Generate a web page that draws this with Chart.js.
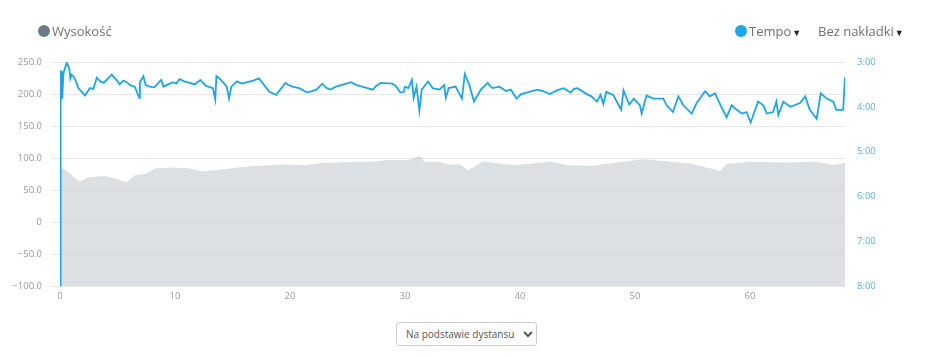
<!DOCTYPE html>
<html>
<head>
<meta charset="utf-8">
<script src="https://cdn.jsdelivr.net/npm/chart.js@4"></script>
<style>
  body { margin: 0; background: #fff; font-family: "Open Sans", sans-serif; }
  .wrap { position: relative; width: 929px; height: 357px; }
  .chart { position: absolute; left: 0; top: 0; width: 929px; height: 310px; }
  .leg { position: absolute; top: 22px; font-size: 13px; color: #707070; white-space: nowrap; }
  .dot { display: inline-block; width: 12px; height: 12px; border-radius: 50%; vertical-align: -1px; margin-right: 2px; }
  .caret { font-size: 9px; color: #222; margin-left: 1px; }
  select { position: absolute; left: 396px; top: 322px; width: 141px; height: 24px;
           font-family: "Open Sans", sans-serif; font-size: 10px; color: #555;
           border: 1px solid #ccc; border-radius: 3px; background: #fff; padding-left: 5px; }
</style>
</head>
<body>
<div class="wrap">
  <div class="chart"><canvas id="trackChart"></canvas></div>
  <div class="leg" style="left:38px"><span class="dot" style="background:#6b7a89"></span>Wysokość</div>
  <div class="leg" style="left:735px"><span class="dot" style="background:#1ea5e3"></span>Tempo<span class="caret">▼</span></div>
  <div class="leg" style="left:818px">Bez nakładki<span class="caret">▼</span></div>
  <select><option>Na podstawie dystansu</option></select>
</div>
<script>
// Elevation (m) by distance (km)
const elevKm = [0, 0.7, 1.2, 1.7, 2.5, 3.9, 4.8, 5.8, 6.5, 7.4, 8.3, 9.7, 11.2, 12.3, 14, 15.5, 17, 19.3,
  21.3, 22.8, 25.7, 27.1, 28.5, 30.3, 31.3, 31.7, 32.9, 33.9, 34.8, 35.5, 36.8, 38.3, 39.7, 42.6,
  44.1, 46.1, 48.4, 50.7, 52.8, 54.8, 56.5, 57.4, 58, 60, 62.9, 65.8, 67.2, 68.26];
const elevM = [86, 79, 70, 63, 70, 72, 68, 62, 73, 75, 84, 85, 84, 79, 82, 85, 87.5, 90,
  89, 92, 94, 94, 97, 97, 103, 94, 94, 90, 90, 81, 95, 91, 89, 94,
  89, 87.5, 93, 98, 95, 91, 84, 80, 91, 94, 93, 94, 89, 92];

// Pace (seconds per km) by distance (km)
const paceKm = [0, 0.05, 0.1, 0.15, 0.2, 0.3, 0.58, 0.8, 0.9, 1.0, 1.2, 1.4, 1.6, 2.17, 2.6, 2.9, 3.2, 3.5,
  3.8, 4.5, 4.9, 5.2, 5.5, 5.8, 6.1, 6.5, 6.9, 6.95, 7.25, 7.45, 7.8, 8.2, 8.8, 9.0, 9.8, 10.1, 10.4,
  10.8, 11.3, 11.7, 12.2, 12.7, 13.3, 13.5, 13.6, 14.0, 14.5, 14.7, 14.9, 15.4, 15.8, 16.3, 16.8, 17.3,
  17.7, 18.2, 18.8, 19.6, 19.9,
  20.2, 20.8, 21.5, 22.3, 22.8, 23.2, 23.5, 24.0, 24.9, 25.3, 25.8, 26.5, 27.2, 27.5, 27.9, 28.9, 29.2,
  29.6, 29.9, 30.0,
  30.3, 30.6, 30.75, 31.0, 31.25, 31.45, 32.0, 32.4, 33.0, 33.4, 33.55, 33.8, 34.4, 34.95, 35.2,
  35.6, 36.0, 36.6, 37.2, 37.4, 37.6, 38.2, 38.8, 39.2, 39.7, 40.1, 40.8, 41.5, 42.0, 42.6, 43.2, 43.8,
  44.4, 44.7, 45.0, 45.7, 46.2, 46.7, 47.0, 47.25, 47.5, 48.1, 48.8, 49.0, 49.5, 49.9, 50.43, 50.58,
  51.0, 51.6, 52.46, 52.75, 53.3, 53.77, 54.2, 54.93, 55.36, 56.1, 56.5, 56.96, 57.5, 57.97, 58.4,
  58.84, 59.3, 59.7, 60.06, 60.7, 61.16, 61.45, 62.0, 62.3, 62.46, 62.9, 63.5, 64.35, 64.8, 65.2,
  65.8, 66.15, 66.67, 67.24, 67.5, 68.1, 68.26];
const paceSec = [480, 191, 229, 192, 228, 195, 181, 188, 202, 197, 200, 206, 215, 225, 215, 216, 201, 206,
  208, 197, 204, 210, 205, 207, 211, 213, 228, 207, 199, 211, 213, 214, 204, 213, 207, 209, 203,
  206, 208, 210, 204, 212, 215, 230, 199, 204, 213, 229, 213, 206, 209, 207, 205, 202,
  210, 220, 224, 208, 211,
  213, 215, 221, 217, 209, 215, 217, 213, 209, 207, 211, 214, 217, 212, 208, 209, 212,
  221, 220, 213,
  215, 204, 228, 213, 245, 217, 206, 215, 217, 211, 228, 215, 213, 229, 196,
  211, 233, 217, 208, 212, 215, 213, 219, 217, 229, 223, 220, 217, 219, 223, 218, 215,
  221, 216, 215, 222, 226, 233, 224, 236, 220, 224, 244, 218, 237, 229, 238, 249,
  225, 229, 229, 238, 247, 226, 238, 249, 235, 219, 226, 222, 240, 254, 238,
  244, 249, 247, 261, 233, 238, 249, 247, 233, 251, 233, 240, 235, 226, 244,
  256, 222, 229, 233, 244, 244, 200];

const xTicks = [0, 10, 20, 30, 40, 50, 60];

const tickFont = { family: 'Open Sans', size: 9.5 };

new Chart(document.getElementById('trackChart'), {
    type: 'line',
    data: {
        datasets: [{
            label: 'Tempo',
            data: paceKm.map((k, i) => ({ x: k, y: paceSec[i] })),
            yAxisID: 'y1',
            borderColor: '#1ea5e3',
            borderWidth: 1.8,
            pointRadius: 0,
            tension: 0,
            fill: false,
            order: 0
        }, {
            label: 'Wysokość',
            data: elevKm.map((k, i) => ({ x: k, y: elevM[i] })),
            yAxisID: 'y',
            borderWidth: 0,
            backgroundColor: 'rgba(195,201,207,0.58)',
            pointRadius: 0,
            fill: 'start',
            order: 1
        }]
    },
    options: {
        responsive: true,
        maintainAspectRatio: false,
        animation: false,
        layout: { padding: { top: 62, left: 0, right: 0, bottom: 0 } },
        plugins: { legend: { display: false }, tooltip: { enabled: false } },
        scales: {
            x: {
                type: 'linear',
                min: 0,
                max: 68.26,
                afterBuildTicks: s => { s.ticks = xTicks.map(v => ({ value: v })); },
                afterFit: s => { s.height = 24; },
                grid: { display: false, drawTicks: false },
                border: { display: false },
                ticks: { color: '#999', font: tickFont, padding: 5 }
            },
            y: {
                position: 'left',
                min: -100,
                max: 250,
                afterFit: s => { s.width = 60; },
                grid: { color: '#e6e6e6', tickLength: 8 },
                border: { display: false },
                ticks: {
                    stepSize: 50,
                    color: '#999',
                    font: tickFont,
                    padding: 10,
                    callback: v => v === 0 ? '0' : (v < 0 ? '\u2212' + Math.abs(v).toFixed(1) : v.toFixed(1))
                }
            },
            y1: {
                position: 'right',
                reverse: true,
                min: 180,
                max: 480,
                afterFit: s => { s.width = 84; },
                grid: { display: false, drawTicks: false },
                border: { display: false },
                ticks: {
                    stepSize: 60,
                    color: '#5aaee0',
                    font: tickFont,
                    padding: 12,
                    callback: v => Math.floor(v / 60) + ':' + String(v % 60).padStart(2, '0')
                }
            }
        }
    }
});
</script>
</body>
</html>
